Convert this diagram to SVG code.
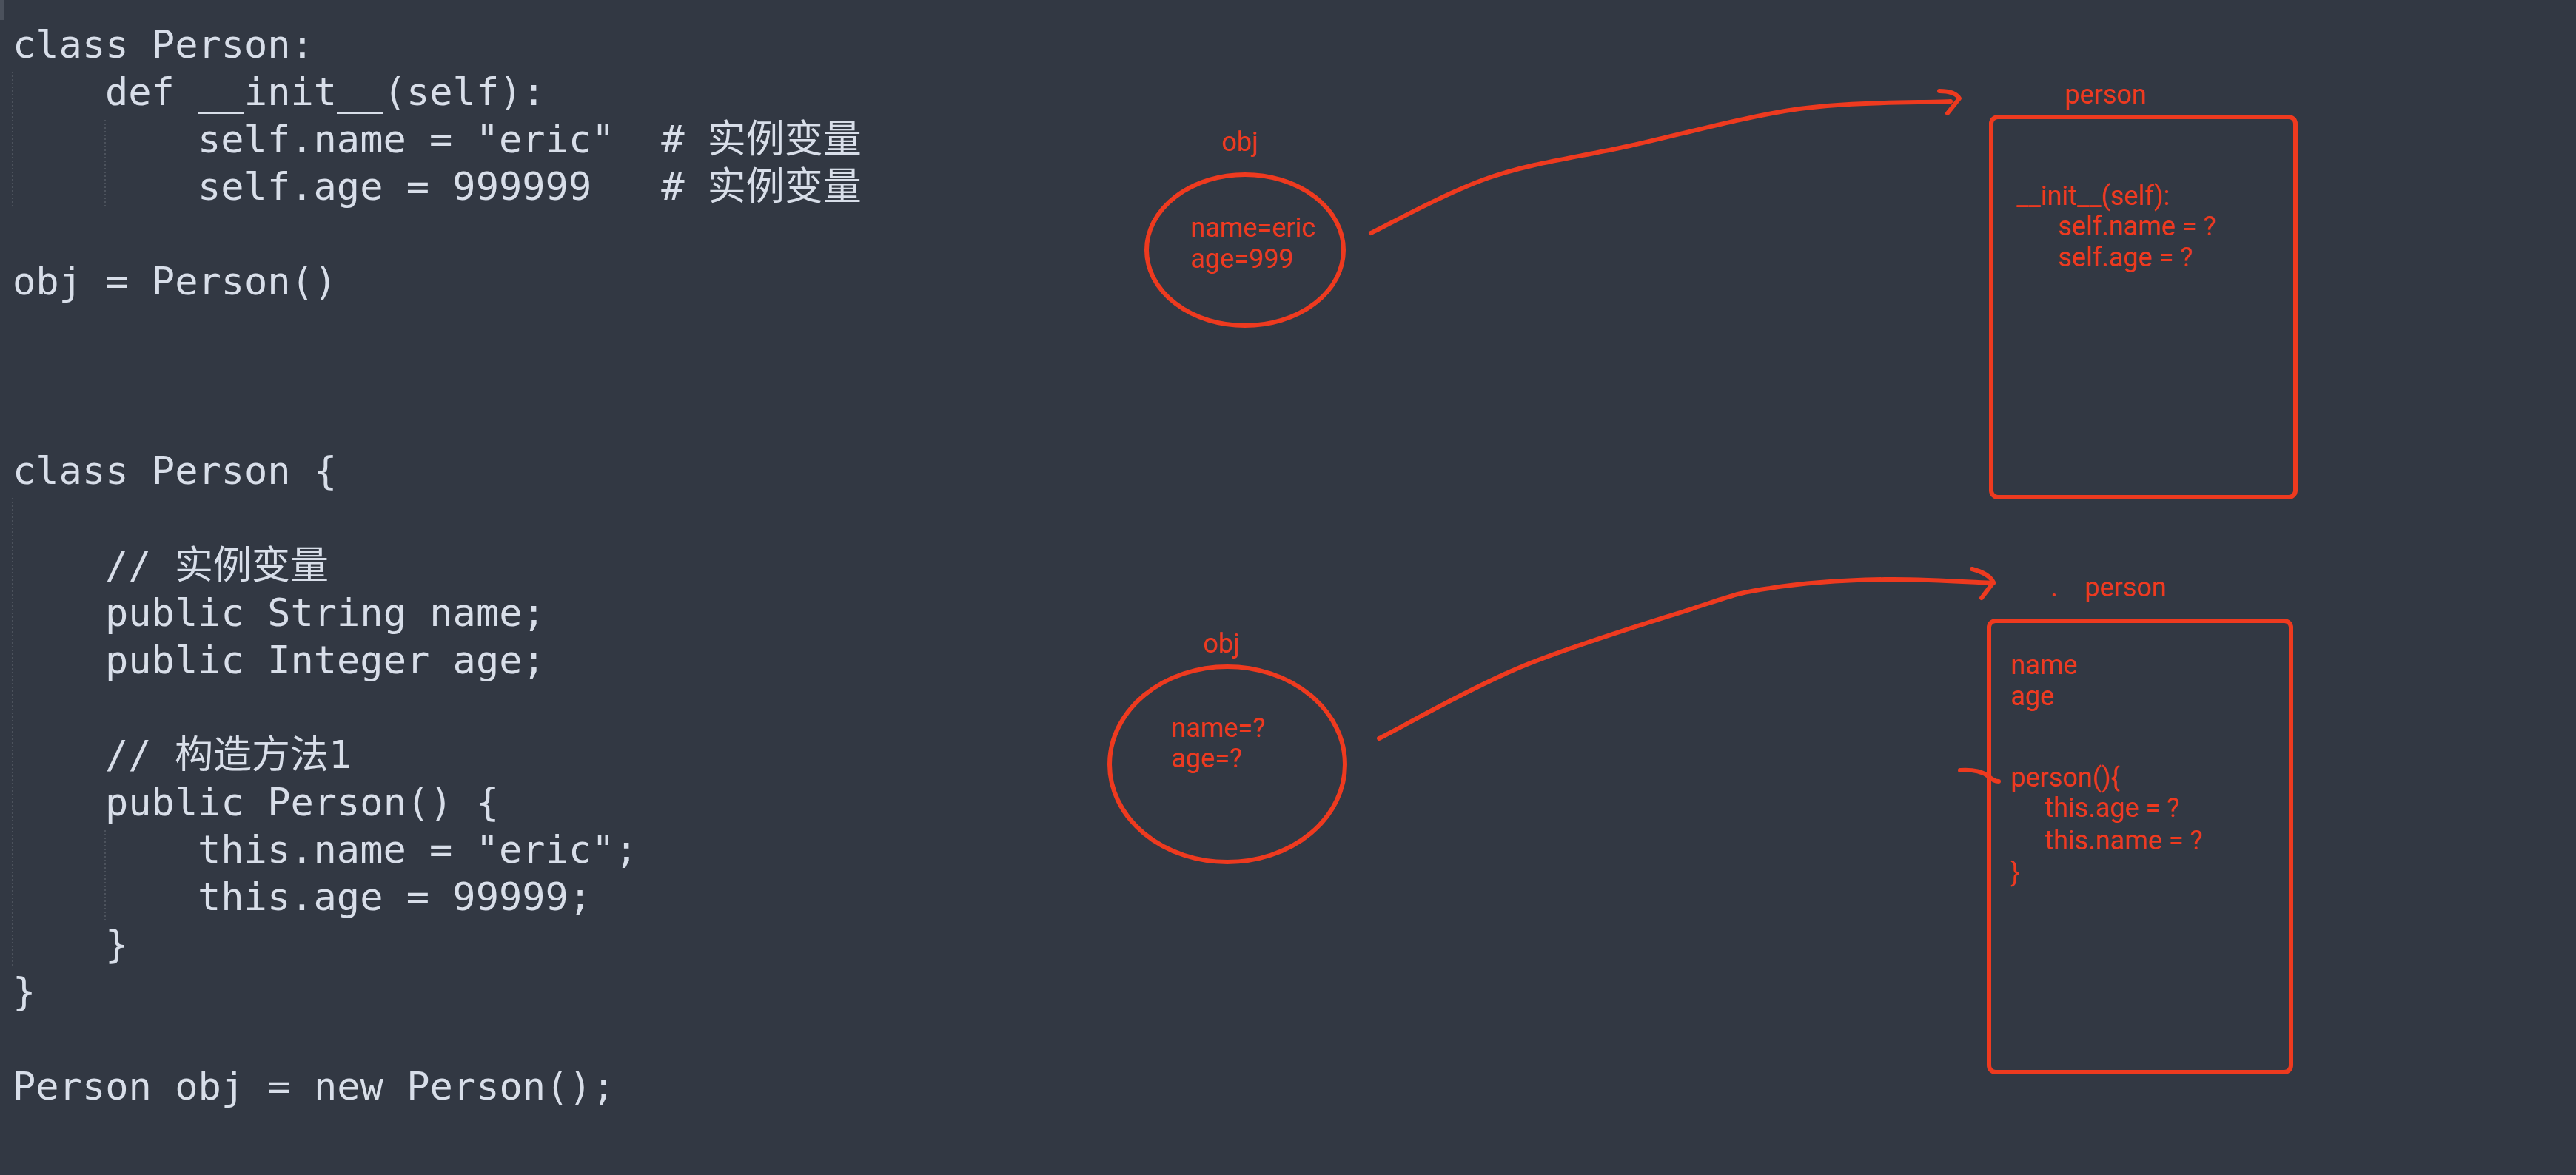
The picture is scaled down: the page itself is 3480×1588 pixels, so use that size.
<svg xmlns="http://www.w3.org/2000/svg" width="3480" height="1588" viewBox="0 0 3480 1588">
<style>
.code{font-family:"DejaVu Sans Mono","Noto Sans CJK SC",monospace;font-size:52px;fill:#d8dee9}
.guide{stroke:#555b66;stroke-width:1.5;stroke-dasharray:2 3;fill:none}
.ink{fill:none;stroke:#ee3a1f;stroke-width:6;stroke-linecap:round;stroke-linejoin:round}
.shape{fill:none;stroke:#ee3a1f;stroke-width:6}
.lbl{font-family:Roboto,"Liberation Sans",sans-serif;font-size:36px;fill:#ee3a1f}
</style>
<rect width="3480" height="1588" fill="#323843"/>
<rect x="0" y="0" width="6" height="27" fill="#4b515c"/>
<g id="code">
<line class="guide" x1="17" y1="97" x2="17" y2="283"/>
<line class="guide" x1="142" y1="162" x2="142" y2="283"/>
<line class="guide" x1="17" y1="673" x2="17" y2="1307"/>
<line class="guide" x1="142" y1="1122" x2="142" y2="1244"/>
<text class="code" xml:space="preserve" x="17" y="78">class Person:</text>
<text class="code" xml:space="preserve" x="142" y="142">def __init__(self):</text>
<text class="code" xml:space="preserve" x="267" y="206">self.name = "eric"  # 实例变量</text>
<text class="code" xml:space="preserve" x="267" y="270">self.age = 999999   # 实例变量</text>
<text class="code" xml:space="preserve" x="17" y="398">obj = Person()</text>
<text class="code" xml:space="preserve" x="17" y="654">class Person {</text>
<text class="code" xml:space="preserve" x="142" y="782">// 实例变量</text>
<text class="code" xml:space="preserve" x="142" y="846">public String name;</text>
<text class="code" xml:space="preserve" x="142" y="910">public Integer age;</text>
<text class="code" xml:space="preserve" x="142" y="1038">// 构造方法1</text>
<text class="code" xml:space="preserve" x="142" y="1102">public Person() {</text>
<text class="code" xml:space="preserve" x="267" y="1166">this.name = "eric";</text>
<text class="code" xml:space="preserve" x="267" y="1230">this.age = 99999;</text>
<text class="code" xml:space="preserve" x="142" y="1294">}</text>
<text class="code" xml:space="preserve" x="17" y="1358">}</text>
<text class="code" xml:space="preserve" x="17" y="1486">Person obj = new Person();</text>
</g>
<g id="obj1">
<text class="lbl" x="1650" y="204">obj</text>
<ellipse class="shape" cx="1682" cy="338" rx="133" ry="102"/>
<text class="lbl" x="1608" y="320">name=eric</text>
<text class="lbl" x="1608" y="362">age=999</text>
</g>
<g id="person1">
<text class="lbl" x="2789" y="140">person</text>
<rect class="shape" x="2690" y="158" width="411" height="514" rx="9"/>
<text class="lbl" x="2724" y="277">__init__(self):</text>
<text class="lbl" x="2780" y="318">self.name = ?</text>
<text class="lbl" x="2780" y="360">self.age = ?</text>
</g>
<g id="obj2">
<text class="lbl" x="1625" y="882">obj</text>
<ellipse class="shape" cx="1658" cy="1033" rx="159" ry="132"/>
<text class="lbl" x="1582" y="996">name=?</text>
<text class="lbl" x="1582" y="1037">age=?</text>
</g>
<g id="person2">
<text class="lbl" x="2770" y="806">.</text>
<text class="lbl" x="2816" y="806">person</text>
<rect class="shape" x="2687" y="839" width="408" height="610" rx="9"/>
<text class="lbl" x="2716" y="911">name</text>
<text class="lbl" x="2716" y="953">age</text>
<text class="lbl" x="2716" y="1063">person(){</text>
<text class="lbl" x="2762" y="1104">this.age = ?</text>
<text class="lbl" x="2762" y="1148">this.name = ?</text>
<text class="lbl" x="2716" y="1192">}</text>
</g>
<g id="connectors">
<path class="ink" d="M1852,315 C1879,302 1954,260 2012,240 C2070,220 2132,212.5 2202,197 C2272,181.5 2359,157 2431,147 C2503,137 2601,139 2635,137"/>
<path class="ink" d="M2620,123 Q2641,123 2647,133 L2631,153"/>
<path class="ink" d="M1863,998 C1895,982 1987,929 2058,900 C2129,871 2232,840 2288,822 C2343,804 2348,801 2391,795 C2434,788 2496,784 2546,783 C2596,782 2668,787 2693,788"/>
<path class="ink" d="M2664,769 Q2687,775 2693,787 L2677,808"/>
<path class="ink" d="M2648,1041 C2668,1040 2678,1043 2686,1049 C2692,1054 2695,1056 2700,1056"/>
</g>
</svg>
